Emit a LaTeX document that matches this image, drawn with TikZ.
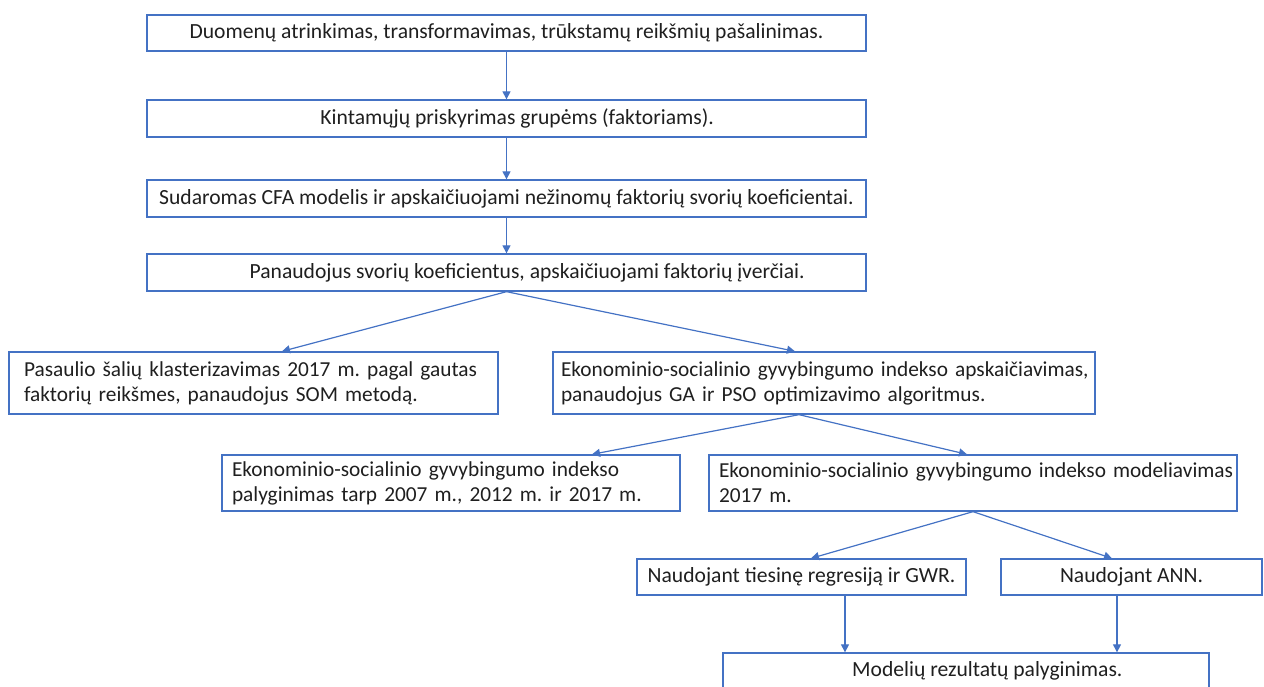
\documentclass[tikz,border=0pt]{standalone}
\usepackage{fontspec}
\setmainfont{Carlito}
\frenchspacing
\usetikzlibrary{arrows.meta,calc}
\definecolor{ofblue}{RGB}{68,114,196}
\tikzset{every picture/.style={line width=0.75pt}}
\tikzset{
	blkbox/.style={draw=ofblue, line width=1pt, rectangle, inner sep=0pt, text=black!88,
		font=\fontsize{16.2}{18.75}\selectfont},
	lbox/.style={blkbox, align=left, inner xsep=0pt, font=\fontsize{16}{18.75}\selectfont}
}
\tikzset{arr/.style={draw=ofblue, line width=0.9pt, -{Triangle[length=6pt,width=6pt]}}}

\begin{document}
\begin{tikzpicture}[x=0.75pt,y=0.75pt,yscale=-1,xscale=1]
	\useasboundingbox (0,0) rectangle (1264,686);
	\clip (0,0) rectangle (1264,686);

	%Shape: Rectangle [id:b1]
	\node[blkbox, minimum width=539.25pt, minimum height=27pt] (b1) at (506.5,33) {Duomenų atrinkimas, transformavimas, trūkstamų reikšmių pašalinimas.};
	%Shape: Rectangle [id:b2]
	\node[blkbox, minimum width=539.25pt, minimum height=27.75pt] (b2) at (506.5,118.5) {\hspace*{16pt}Kintamųjų priskyrimas grupėms (faktoriams).};
	%Shape: Rectangle [id:b3]
	\node[blkbox, minimum width=539.25pt, minimum height=27.75pt] (b3) at (506.5,198.5) {Sudaromas CFA modelis ir apskaičiuojami nežinomų faktorių svorių koeficientai.};
	%Shape: Rectangle [id:b4]
	\node[blkbox, minimum width=539.25pt, minimum height=27.75pt] (b4) at (506.5,272.5) {\hspace*{31pt}Panaudojus svorių koeficientus, apskaičiuojami faktorių įverčiai.};
	%Shape: Rectangle [id:b5]
	\node[lbox, text width=366.75pt, minimum height=46.5pt] (b5) at (253.5,383) {\mbox{\hspace*{11.25pt}Pasaulio šalių klasterizavimas 2017 m. pagal gautas}\\\mbox{\hspace*{11.25pt}faktorių reikšmes, panaudojus SOM metodą.}};
	%Shape: Rectangle [id:b6]
	\node[lbox, text width=406.5pt, minimum height=46.5pt] (b6) at (824,383) {\mbox{\hspace*{6pt}Ekonominio-socialinio gyvybingumo indekso apskaičiavimas,}\\\mbox{\hspace*{6pt}panaudojus GA ir PSO optimizavimo algoritmus.}};
	%Shape: Rectangle [id:b7]
	\node[lbox, text width=343.5pt, minimum height=42pt] (b7) at (451,483) {\mbox{\hspace*{7.5pt}Ekonominio-socialinio gyvybingumo indekso}\\\mbox{\hspace*{7.5pt}palyginimas tarp 2007 m., 2012 m. ir 2017 m.}};
	%Shape: Rectangle [id:b8]
	\node[lbox, text width=396pt, minimum height=42pt] (b8) at (973,483) {\mbox{\hspace*{7.5pt}Ekonominio-socialinio gyvybingumo indekso modeliavimas}\\\mbox{\hspace*{7.5pt}2017 m.}};
	%Shape: Rectangle [id:b9]
	\node[blkbox, minimum width=246.75pt, minimum height=27pt] (b9) at (801.5,577) {Naudojant tiesinę regresiją ir GWR.};
	%Shape: Rectangle [id:b10]
	\node[blkbox, minimum width=195.75pt, minimum height=27pt] (b10) at (1131.5,577) {Naudojant ANN.};
	%Shape: Rectangle [id:b11]
	\node[blkbox, minimum width=364.5pt, minimum height=27pt] (b11) at (966,671) {\hspace*{32pt}Modelių rezultatų palyginimas.};

	%Straight Lines
	\draw[arr] (b1) -- (b2);
	\draw[arr] (b2) -- (b3);
	\draw[arr] (b3) -- (b4);
	\draw[arr] (b4.south) -- ($(b5.north)+(28.5,0)$);
	\draw[arr] (b4.south) -- ($(b6.north)+(-29,0)$);
	%Straight Lines
	\coordinate (s6) at ($(b6.south)+(-25,0)$);
	\draw[arr] (s6) -- ($(b7.north)+(141,0)$);
	\draw[arr] (s6) -- ($(b8.north)+(-6,0)$);
	\draw[arr] (b8.south) -- ($(b9.north)+(9.5,0)$);
	\draw[arr] (b8.south) -- ($(b10.north)+(-19.5,0)$);
	%Straight Lines
	\coordinate (s9) at ($(b9.south)+(43.5,0)$);
	\coordinate (s10) at ($(b10.south)+(-14.5,0)$);
	\draw[arr] (s9) -- (s9 |- b11.north);
	\draw[arr] (s10) -- (s10 |- b11.north);

\end{tikzpicture}
\end{document}
